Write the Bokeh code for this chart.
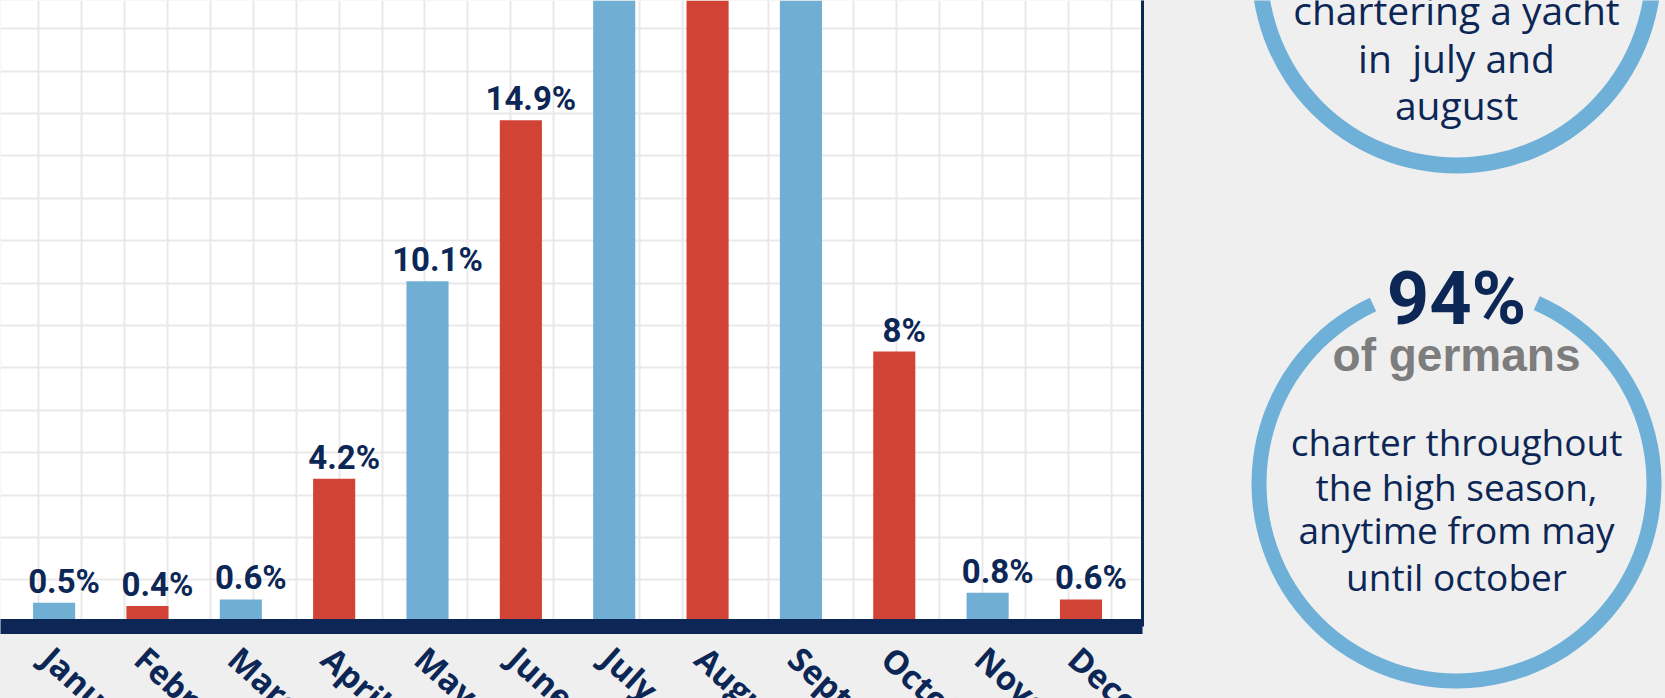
import numpy as np
from bokeh.plotting import figure
from bokeh.models import (Range1d, ColumnDataSource, LabelSet, Label, LinearAxis, Grid,
                          FixedTicker, SingleIntervalTicker)
from bokeh.layouts import row, column
from bokeh.core.properties import value
from bokeh.embed import file_html
from bokeh.resources import INLINE

# ---------------- data ----------------
months = ["January", "February", "March", "April", "May", "June", "July",
          "August", "September", "October", "November", "December"]
shares = [0.5, 0.4, 0.6, 4.2, 10.1, 14.9, 20.8, 19.9, 19.2, 8.0, 0.8, 0.6]
share_labels = ["0.5%", "0.4%", "0.6%", "4.2%", "10.1%", "14.9%", "20.8%",
                "19.9%", "19.2%", "8%", "0.8%", "0.6%"]

top_lines = ["chartering a yacht", "in\u00a0 july and", "august"]
stat_value = "94%"
stat_sub = "of germans"
bottom_lines = ["charter throughout", "the high season,", "anytime from may", "until october"]

# ---------------- style ----------------
BLUE = "#71aed4"
RED = "#d14334"
NAVY = "#0c2756"
BG = "#efefef"
RING = "#6eb0d7"
GRAY = "#7d7d7d"
GRID = "#e9e9e9"

TOTAL_W, TOTAL_H = 1665, 698
FRAME_W, FRAME_H = 1142, 626
RB = 6                      # right border of the chart
W_L = FRAME_W + RB
H_P = FRAME_H + 8
H_LAB = TOTAL_H - H_P
W_R = TOTAL_W - W_L

Y_END = 18.478
x_rng = Range1d(-0.5742, 11.659)

colors = [BLUE if i % 2 == 0 else RED for i in range(len(months))]
idx = list(range(len(months)))
src = ColumnDataSource(dict(x=idx, top=shares, color=colors))
vis = [i for i in idx if shares[i] < Y_END]
lbl_src = ColumnDataSource(dict(x=vis, top=[shares[i] for i in vis],
                                label=[share_labels[i] for i in vis]))

p = figure(width=W_L, height=H_P, output_backend="svg", toolbar_location=None,
           x_range=x_rng, y_range=Range1d(-0.209, Y_END),
           min_border_left=0, min_border_top=0, min_border_right=RB, min_border_bottom=8,
           background_fill_color="white", border_fill_color=BG, outline_line_color=None)
p.yaxis.visible = False
p.xgrid.visible = False
p.ygrid.visible = False
ax = p.xaxis[0]
ax.ticker = FixedTicker(ticks=[])
ax.axis_line_color = NAVY
ax.axis_line_width = 15
ax.major_tick_out = 0
ax.major_tick_in = 0
ax.minor_tick_out = 0
ax.minor_tick_in = 0
ax.major_label_standoff = 0
ax.major_label_text_font_size = "0px"

ra = LinearAxis(ticker=FixedTicker(ticks=[]), axis_line_color=NAVY, axis_line_width=3,
                major_tick_out=0, major_tick_in=0, minor_tick_out=0, minor_tick_in=0,
                major_label_standoff=0, major_label_text_font_size="0px")
p.add_layout(ra, "right")

p.extra_x_ranges = {"gx": Range1d(-0.8928, 25.727)}
p.extra_y_ranges = {"gy": Range1d(-0.0967, 14.667)}
p.add_layout(Grid(dimension=0, ticker=SingleIntervalTicker(interval=1), x_range_name="gx",
                  grid_line_color=GRID, grid_line_width=2))
p.add_layout(Grid(dimension=1, ticker=SingleIntervalTicker(interval=1), y_range_name="gy",
                  grid_line_color=GRID, grid_line_width=2))

p.vbar(x="x", top="top", bottom=0, width=0.451, fill_color="color", line_color=None, source=src)

p.add_layout(LabelSet(x="x", y="top", text="label", source=lbl_src, x_offset=10, y_offset=10,
                      text_align="center", text_baseline="alphabetic",
                      text_font=value("Roboto"), text_font_style="bold",
                      text_font_size="33px", text_color=NAVY))

# ---------------- month labels row ----------------
lab = figure(width=W_L, height=H_LAB, output_backend="svg", toolbar_location=None,
             x_range=x_rng, y_range=Range1d(-H_LAB, 0),
             x_axis_type=None, y_axis_type=None,
             min_border_left=0, min_border_top=0, min_border_bottom=0, min_border_right=RB,
             background_fill_color=BG, border_fill_color=BG, outline_line_color=None)
lab.grid.visible = False
lab_src = ColumnDataSource(dict(x=idx, y=[-2] * len(idx), month=months))
lab.add_layout(LabelSet(x="x", y="y", text="month", source=lab_src, x_offset=8,
                        angle=-42, angle_units="deg", text_align="left", text_baseline="top",
                        text_font=value("Open Sans"), text_font_style="bold",
                        text_font_size="33px", text_color=NAVY))

# ---------------- side panel ----------------
q = figure(width=W_R, height=TOTAL_H, output_backend="svg", toolbar_location=None,
           x_range=Range1d(W_L, TOTAL_W), y_range=Range1d(-TOTAL_H, 0),
           x_axis_type=None, y_axis_type=None, min_border=0,
           background_fill_color=BG, border_fill_color=BG, outline_line_color=None)
q.grid.visible = False

CX = 1456
q.annulus(x=CX, y=32, inner_radius=189, outer_radius=205, fill_color=RING, line_color=None)
q.annular_wedge(x=CX, y=-483, inner_radius=190, outer_radius=205,
                start_angle=np.radians(115), end_angle=np.radians(66), direction="anticlock",
                fill_color=RING, line_color=None)


def put(txt, yb, font, size, color, style="normal"):
    y = yb - 0.37 * size
    q.add_layout(Label(x=CX, y=-y, text=txt, text_align="center", text_baseline="alphabetic",
                       text_font=font, text_font_size=f"{size}px", text_font_style=style,
                       text_color=color))


for txt, yb in zip(top_lines, [23, 71.5, 118]):
    put(txt, yb, "Open Sans", 39, NAVY)
put(stat_value, 325, "Roboto", 74, NAVY, "bold")
put(stat_sub, 372, "Liberation Sans", 46, GRAY, "bold")
for txt, yb in zip(bottom_lines, [455, 500, 543, 590]):
    put(txt, yb, "Open Sans", 37, NAVY)

layout = row(column(p, lab, spacing=0, styles={"background-color": BG}), q, spacing=0,
             styles={"background-color": BG})
open("out.html", "w").write(file_html(layout, INLINE))
